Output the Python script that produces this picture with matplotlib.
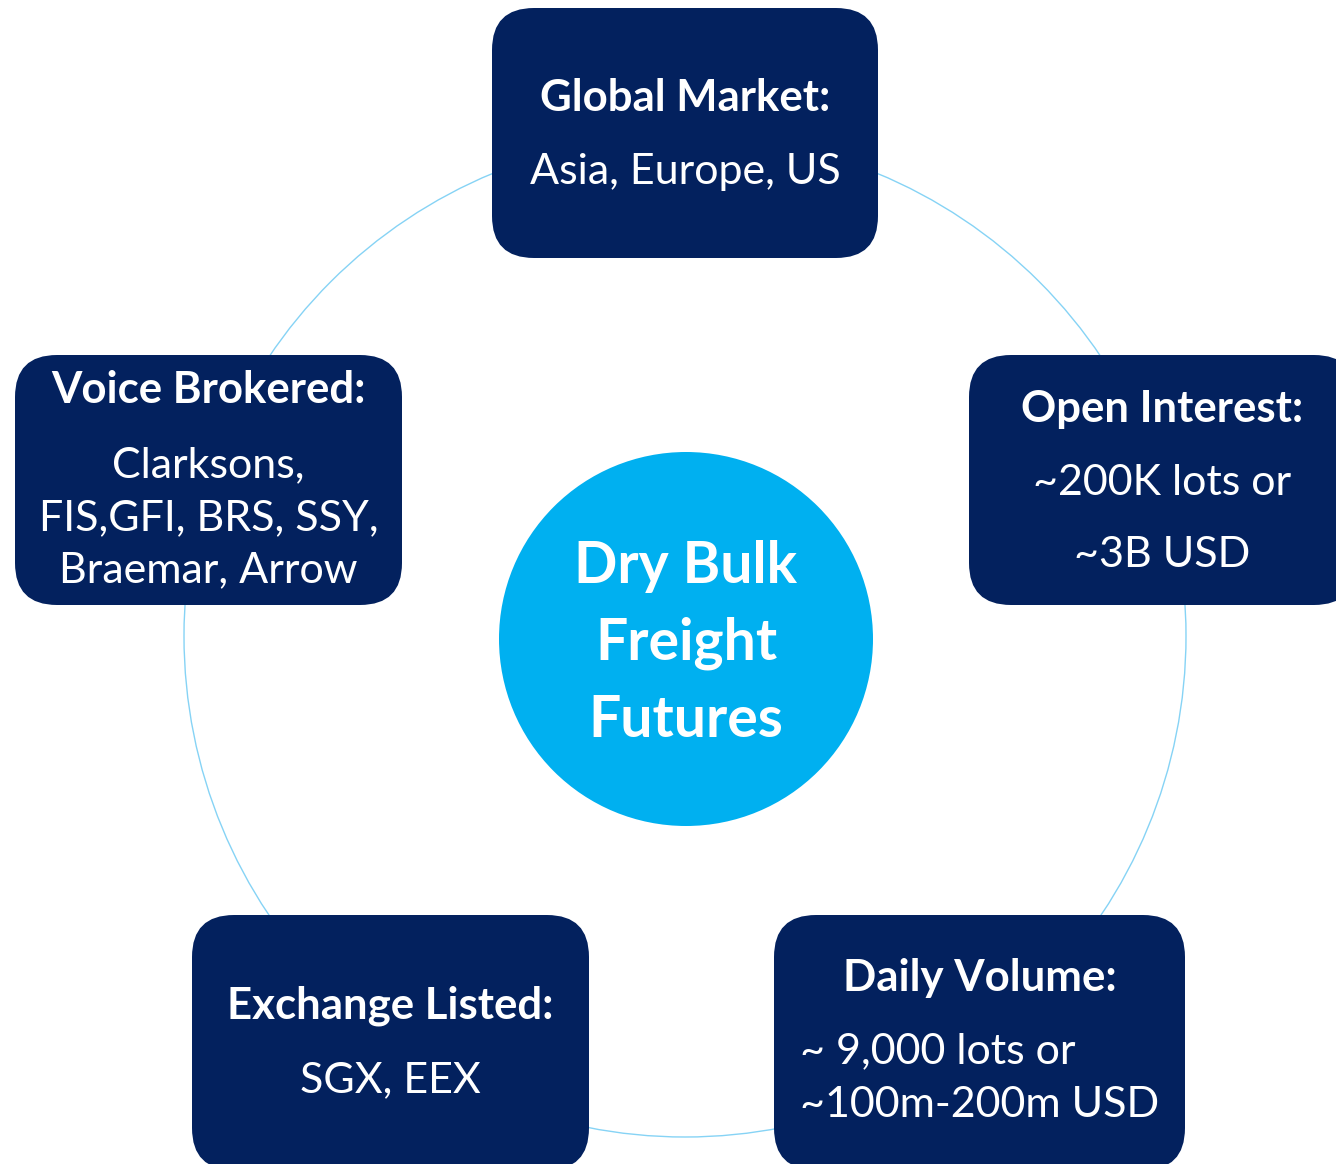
import matplotlib.pyplot as plt
from matplotlib.patches import FancyBboxPatch, Circle

plt.rcParams['font.family'] = ['Lato', 'DejaVu Sans']

# box contents
titles = ["Global Market:", "Open Interest:", "Voice Brokered:", "Exchange Listed:", "Daily Volume:"]
bodies = [
    ["Asia, Europe, US"],
    ["~200K lots or", "~3B USD"],
    ["Clarksons,", "FIS,GFI, BRS, SSY,", "Braemar, Arrow"],
    ["SGX, EEX"],
    ["~ 9,000 lots or", "~100m-200m USD"],
]
centre_lines = ["Dry Bulk", "Freight", "Futures"]

# layout (pixels, y down)
boxes = [  # x0, y0, x1, y1
    (492, 8, 878, 258),
    (969, 355, 1356, 605),
    (15, 355, 402, 605),
    (192, 915, 589, 1170),
    (774, 915, 1185, 1170),
]
title_y = [111, 422, 403, 1018, 991]
body_y = [[184], [495, 567], [477, 530, 582], [1092], [1063, 1117]]
body_align = ['center', 'center', 'center', 'center', 'left']
centre_y = [583, 660, 737]

navy = '#03215e'
sky = '#00b0f0'

fig = plt.figure(figsize=(13.36, 11.64), dpi=100)
ax = fig.add_axes([0, 0, 1, 1])
ax.set_xlim(0, 1336)
ax.set_ylim(1164, 0)
ax.axis('off')

# ring behind the boxes
ax.add_patch(Circle((685, 636), 501, fill=False, ec='#86d3f5', lw=1.0, zorder=1))

for i in range(len(titles)):
    x0, y0, x1, y1 = boxes[i]
    ax.add_patch(FancyBboxPatch((x0, y0), x1 - x0, y1 - y0,
                                boxstyle="round,pad=0,rounding_size=42",
                                fc=navy, ec='none', zorder=2))
    cx = (x0 + x1) / 2
    ax.text(cx, title_y[i], titles[i], color='white', fontsize=31.5, fontweight='bold',
            ha='center', va='baseline', zorder=3)
    for j, line in enumerate(bodies[i]):
        if body_align[i] == 'left':
            ax.text(x0 + 26, body_y[i][j], line, color='white', fontsize=31,
                    ha='left', va='baseline', zorder=3)
        else:
            ax.text(cx, body_y[i][j], line, color='white', fontsize=31,
                    ha='center', va='baseline', zorder=3)

ax.add_patch(Circle((686, 639), 187, fc=sky, ec='none', zorder=2))
for j, line in enumerate(centre_lines):
    ax.text(686, centre_y[j], line, color='white', fontsize=41, fontweight='bold',
            ha='center', va='baseline', zorder=3)

fig.savefig('out.png', dpi=100)
